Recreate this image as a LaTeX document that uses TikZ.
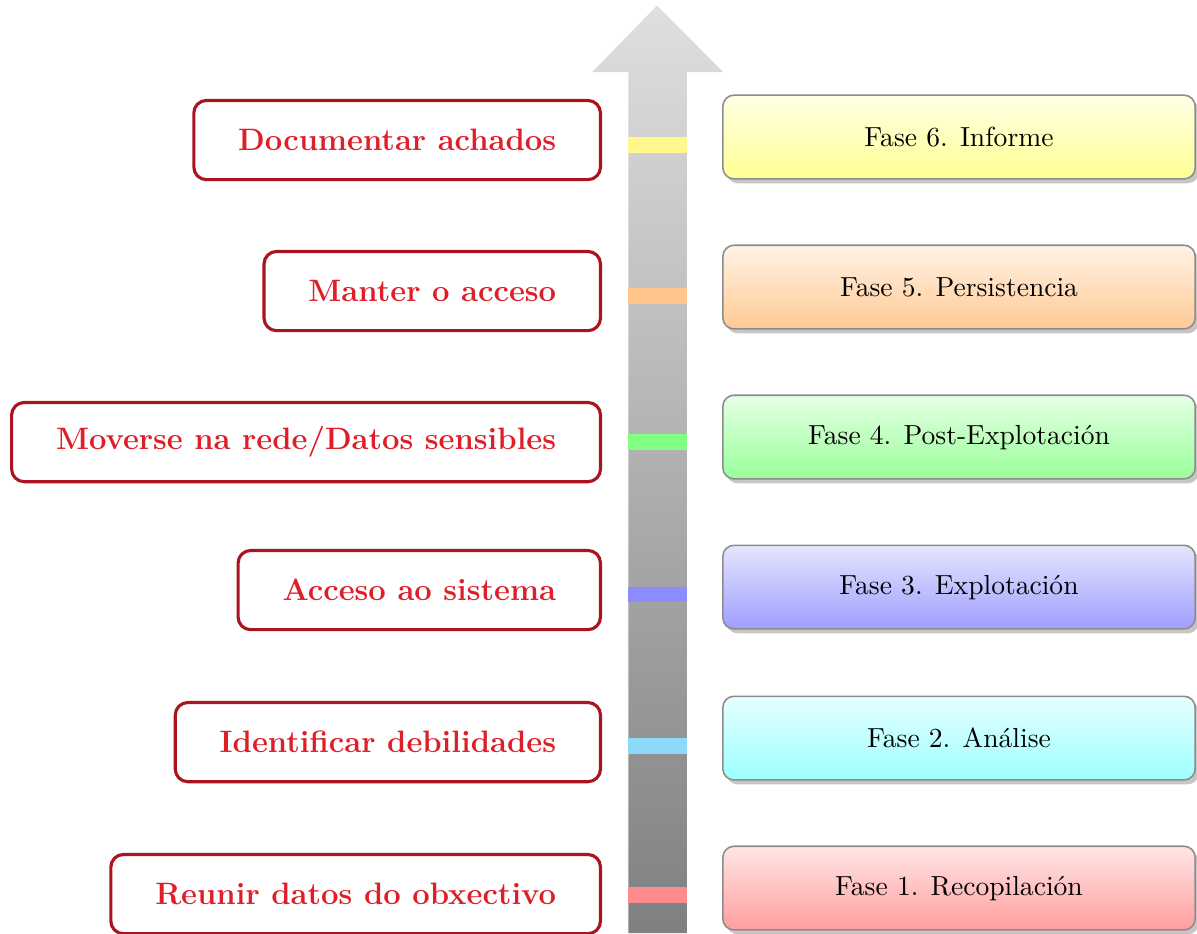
\documentclass[tikz,border=0pt]{standalone}
\usetikzlibrary{shadows}

\definecolor{tarefared}{RGB}{222,30,40}
\definecolor{tarefaedge}{RGB}{170,20,30}

\begin{document}
\begin{tikzpicture}[
  fase/.style={draw=black!45,line width=0.6pt,rounded corners=0.15cm,
    minimum width=6.38cm,minimum height=1.13cm,
    font=\fontsize{10.6}{12}\selectfont,
    drop shadow={opacity=0.45,shadow xshift=0.05cm,shadow yshift=-0.06cm}},
  tarefa/.style={draw=tarefaedge,line width=1.2pt,rounded corners=0.17cm,
    fill=white,text=tarefared,anchor=east,inner xsep=0.6cm,
    minimum height=1.07cm,font=\fontsize{11.9}{14}\selectfont\bfseries}]
  \useasboundingbox (0,0) rectangle (16.17,12.605);
  % the arrow
  \shade[top color=gray!25,bottom color=gray!100]
    (8.49,0) -- (8.49,11.63) -- (8.0,11.63) -- (8.876,12.53)
    -- (9.77,11.63) -- (9.28,11.63) -- (9.28,0) -- cycle;
  % marks on the arrow
  \fill[yellow!45] (8.49,10.54) rectangle (9.28,10.75);
  \fill[orange!45] (8.49,8.50) rectangle (9.28,8.71);
  \fill[green!50] (8.49,6.53) rectangle (9.28,6.74);
  \fill[blue!45] (8.49,4.47) rectangle (9.28,4.68);
  \fill[cyan!45] (8.49,2.42) rectangle (9.28,2.63);
  \fill[red!45] (8.49,0.41) rectangle (9.28,0.62);
  % phases
  \node[fase,top color=yellow!10,bottom color=yellow!42] (f6) at (12.955,10.754) {Fase 6. Informe};
  \node[fase,top color=orange!10,bottom color=orange!42] (f5) at (12.955,8.727) {Fase 5. Persistencia};
  \node[fase,top color=green!10,bottom color=green!40] (f4) at (12.955,6.701) {Fase 4. Post-Explotación};
  \node[fase,top color=blue!10,bottom color=blue!38] (f3) at (12.955,4.674) {Fase 3. Explotación};
  \node[fase,top color=cyan!10,bottom color=cyan!38] (f2) at (12.955,2.634) {Fase 2. Análise};
  \node[fase,top color=red!10,bottom color=red!38] (f1) at (12.955,0.608) {Fase 1. Recopilación};
  % tasks
  \node[tarefa] (t6) at (8.133,10.713) {Documentar achados};
  \node[tarefa] (t5) at (8.133,8.673) {Manter o acceso};
  \node[tarefa] (t4) at (8.133,6.633) {Moverse na rede/Datos sensibles};
  \node[tarefa] (t3) at (8.133,4.634) {Acceso ao sistema};
  \node[tarefa] (t2) at (8.133,2.580) {Identificar debilidades};
  \node[tarefa] (t1) at (8.133,0.527) {Reunir datos do obxectivo};
\end{tikzpicture}
\end{document}
